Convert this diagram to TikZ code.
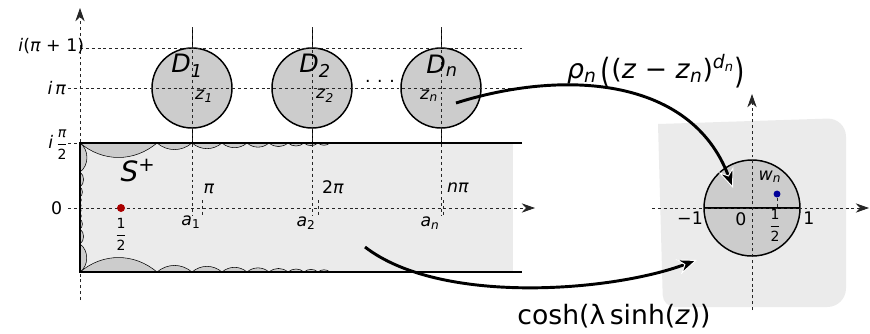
\documentclass[tikz,border=0pt]{standalone}
\usepackage{fontspec}
\usepackage{amsmath}
\usepackage{graphicx}
\setmainfont{DejaVu Sans}
\usetikzlibrary{arrows.meta}

\definecolor{stripgray}{HTML}{EBEBEB}
\definecolor{diskgray}{HTML}{CCCCCC}
\definecolor{dotred}{HTML}{AA0000}
\definecolor{dotblue}{HTML}{000099}

\newcommand{\fracsf}[2]{$\dfrac{\text{\fontsize{10.5}{11}\selectfont #1}}{\text{\fontsize{10.5}{11}\selectfont #2}}$}
\newcommand{\half}{\fracsf{1}{2}}
\newcommand{\bigpar}[1]{\raisebox{-0.2em}{\scalebox{1}[1.3]{#1}}}

\tikzset{
    dashline/.style={draw=black!85, line width=0.6pt, dash pattern=on 2.2pt off 2.2pt},
    axtip/.style={-{Stealth[length=10pt,width=7pt]}},
    lbl/.style={font=\fontsize{13}{15}\selectfont, inner sep=0.5pt},
    disklbl/.style={font=\fontsize{19}{21}\selectfont, inner sep=0pt},
    maplbl/.style={font=\fontsize{20}{23}\selectfont, inner sep=0pt},
    scallop/.style={fill=diskgray, draw=black, line width=0.4pt},
    mapsto/.style={line width=2.2pt, -{Stealth[length=15pt,width=12pt,color=white,fill=black,line width=0.7pt]}},
}

\begin{document}
\begin{tikzpicture}[x=0.75pt, y=-0.75pt, >=stealth]
    \useasboundingbox (0,0) rectangle (870,333);

    % -- Panneau Gauche : bande S+ et disques D_k --
    \begin{scope}[local bounding box=A]
        % Axes
        \coordinate (ytop) at (80,8);
        \coordinate (ybot) at (80,300);
        \coordinate (xl) at (68,208);
        \coordinate (xr) at (535,208);

        % Bande
        \fill[stripgray] (80,143) rectangle (513,272);
        \foreach \a/\b in {80/157,157/192,192/222,222/247,247/269,269/288,288/304,304/318,318/330} {
            \filldraw[scallop] (\a,143) to[bend right=40] (\b,143) -- cycle;
            \filldraw[scallop] (\a,272) to[bend left=40] (\b,272) -- cycle;
        }
        \foreach \a/\b in {143/172,172/187,187/197,197/203,203/208,208/213,213/219,219/229,229/244,244/272}
            \filldraw[scallop] (80,\a) to[bend left=55] (80,\b) -- cycle;

        % Disques D_1, D_2, D_n
        \foreach \k/\x/\dx/\zx in {1/192/187/204, 2/312/315/325, n/441/442/429} {
            \draw[line width=0.6pt] (\x,27) -- (\x,143);
            \filldraw[fill=diskgray, draw=black, line width=1.1pt] (\x,88) circle (30pt);
            \draw[dashline] (\x,27) -- (\x,216);
            \node[disklbl] (D\k) at (\dx,66) {\textit{D}\textsubscript{\textit{\k}}};
            \node[lbl] (z\k) at (\zx,96) {\textit{z}\textsubscript{\textit{\k}}};
        }

        % Lignes horizontales
        \draw[dashline] (80,48) -- (522,48);
        \draw[dashline] (68,88) -- (522,88);
        \draw[dashline] (68,143) -- (80,143);
        \draw[dashline, axtip] (ybot) -- (ytop);
        \draw[dashline, axtip] (xl) -- (xr);
        \foreach \x in {202,318,443} \draw[dashline] (\x,200) -- (\x,216);

        % Bord de la bande
        \draw[line width=1.5pt] (522,143) -- (80,143) -- (80,272) -- (522,272);

        \node[lbl, anchor=east] (lpione) at (85,46) {\textit{i}(\textit{π} + 1)};
        \node[lbl, anchor=east] (lpi) at (67,88) {\textit{i\,π}};
        \node[lbl, anchor=east] (lpihalf) at (69,145) {\textit{i}\,\fracsf{\itshape π}{2}};
        \node[lbl, anchor=east] (lzero) at (63,208) {0};
        \node[lbl] (ldots) at (380,81) {.\hspace{5pt}.\hspace{5pt}.};

        \node[lbl] (pi1) at (209,189) {\textit{π}};
        \node[lbl] (pi2) at (333,187) {2\textit{π}};
        \node[lbl] (pin) at (458,188) {\textit{nπ}};
        \node[lbl] (a1) at (191,222) {\textit{a}\textsubscript{1}};
        \node[lbl] (a2) at (306,223) {\textit{a}\textsubscript{2}};
        \node[lbl] (an) at (430,223) {\textit{a}\textsubscript{\textit{n}}};

        \node[font=\fontsize{21}{23}\selectfont, inner sep=0pt] (splus) at (138,171) {\textit{S}\textsuperscript{+}};
        \fill[dotred] (121,208) circle (3pt);
        \node[lbl] (lhalf) at (121,234) {\half};
    \end{scope}

    % -- Panneau Droit : disque unite --
    \begin{scope}[local bounding box=B]
        \fill[stripgray] (658,124) [rounded corners=14pt] -- (846,118) -- (846,307) [rounded corners=9pt] -- (663,307) [sharp corners] -- cycle;
        \coordinate (w0) at (752,208);
        \filldraw[fill=diskgray, draw=black, line width=1.1pt] (w0) circle (36pt);
        \draw[line width=1.1pt] (704,208) -- (800,208);
        \draw[dashline, axtip] (652,208) -- (869,208);
        \draw[dashline, axtip] (752,310) -- (752,94);
        \draw[dashline] (777,198) -- (777,208);
        \fill[dotblue] (777,194) circle (2.6pt);

        \node[lbl] (wn) at (770,177) {\textit{w}\textsubscript{\textit{n}}};
        \node[lbl] (lm1) at (690,218) {−1};
        \node[lbl] (lw0) at (741,219) {0};
        \node[lbl] (lwhalf) at (775,225) {\half};
        \node[lbl] (lone) at (809,218) {1};
    \end{scope}

    % -- Applications --
    \coordinate (zn) at (456,103);
    \coordinate (wtop) at (733,188);
    \coordinate (sp) at (365,247);
    \coordinate (wbot) at (697,260);
    \draw[mapsto] (zn) .. controls (560,70) and (690,75) .. (wtop);
    \draw[mapsto] (sp) .. controls (440,305) and (610,292) .. (wbot);

    \node[maplbl] (rho) at (656,71) {\textit{ρ}\textsubscript{\textit{n}}\,\bigpar{(}(\textit{z} − \textit{z}\textsubscript{\textit{n}})\textsuperscript{\textit{d}\textsubscript{\textit{n}}}\bigpar{)}};
    \node[maplbl] (cosh) at (614,316) {cosh(λ\,sinh(\textit{z}))};
\end{tikzpicture}
\end{document}
